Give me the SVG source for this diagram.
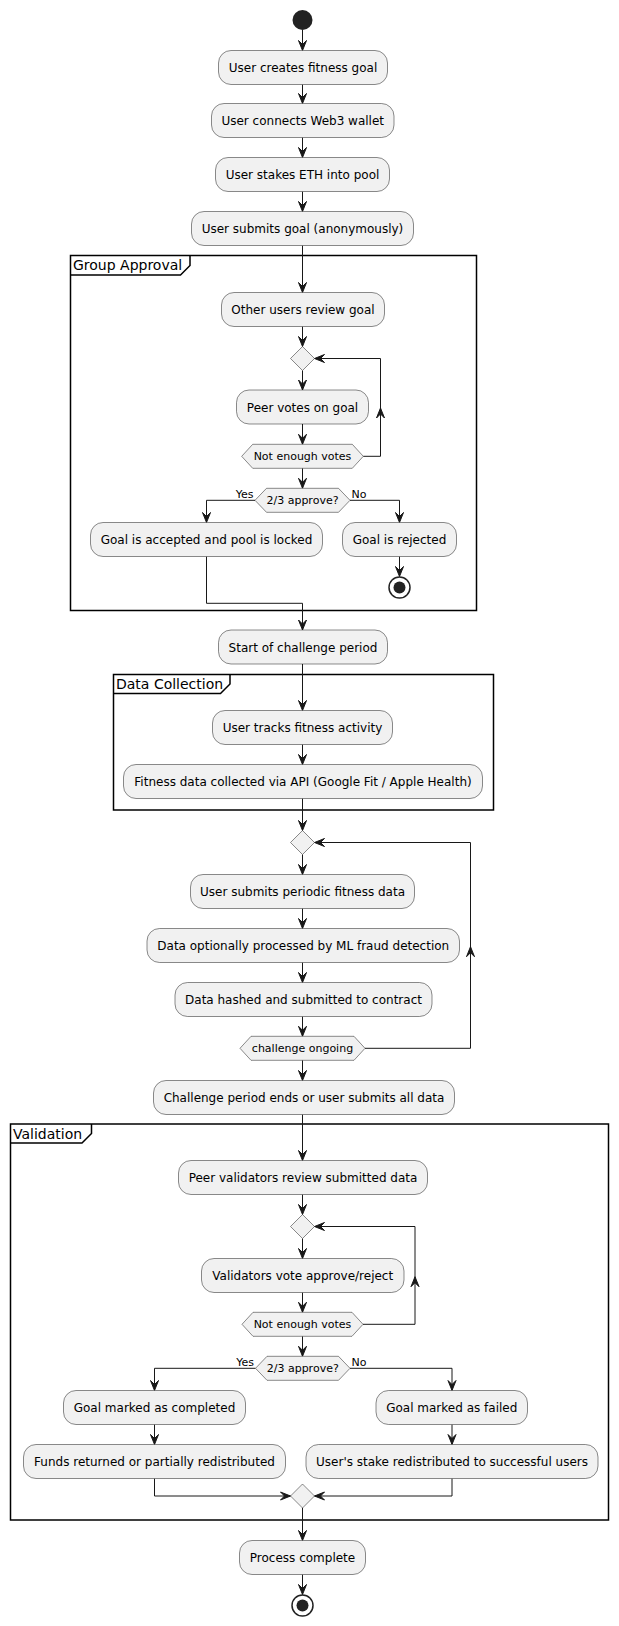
<svg xmlns="http://www.w3.org/2000/svg" width="619" height="1626" viewBox="0 0 619 1626">
<defs>
<style>
.b{fill:#F1F1F1;stroke:#181818;stroke-width:0.5}
.t{font-family:"DejaVu Sans","Liberation Sans",sans-serif;font-size:12px;fill:#000;text-anchor:middle}
.s{font-family:"DejaVu Sans","Liberation Sans",sans-serif;font-size:11px;fill:#000}
.f{fill:none;stroke:#000;stroke-width:1.5}
.ft{font-family:"DejaVu Sans","Liberation Sans",sans-serif;font-size:14px;fill:#000}
.c{fill:none;stroke:#181818;stroke-width:1}
.ah{fill:#181818;stroke:#181818;stroke-width:1}
</style>
<marker id="a" viewBox="-11 -5 12 10" refX="0" refY="0" markerWidth="12" markerHeight="10" markerUnits="userSpaceOnUse" orient="auto">
<path d="M0,0 L-10,-4 L-6,0 L-10,4 Z" fill="#181818" stroke="#181818" stroke-width="1"/>
</marker>
</defs>
<rect width="619" height="1626" fill="#FFFFFF"/>

<g id="frames">
<g id="frame-group-approval">
<rect class="f" x="70.5" y="255.5" width="406" height="355"/>
<path class="f" d="M70.5,275 L180.5,275 L190,265.5 L190,255.5"/>
<text class="ft" x="73" y="270">Group Approval</text>
</g>
<g id="frame-data-collection">
<rect class="f" x="113.5" y="674.5" width="380" height="135.5"/>
<path class="f" d="M113.5,693.5 L220.5,693.5 L230,684 L230,674.5"/>
<text class="ft" x="116" y="689">Data Collection</text>
</g>
<g id="frame-validation">
<rect class="f" x="10.5" y="1124" width="598" height="396"/>
<path class="f" d="M10.5,1143 L82,1143 L91.5,1133.5 L91.5,1124"/>
<text class="ft" x="13" y="1138.5">Validation</text>
</g>
</g>

<g id="connectors">
<path class="c" marker-end="url(#a)" d="M302.5,30 V50.5"/>
<path class="c" marker-end="url(#a)" d="M302.5,84.5 V103.5"/>
<path class="c" marker-end="url(#a)" d="M302.5,137.5 V157.5"/>
<path class="c" marker-end="url(#a)" d="M302.5,191.5 V211.5"/>
<path class="c" marker-end="url(#a)" d="M302.5,245.5 V292.5"/>
<path class="c" marker-end="url(#a)" d="M302.5,326.5 V346.5"/>
<path class="c" marker-end="url(#a)" d="M302.5,370.5 V390"/>
<path class="c" marker-end="url(#a)" d="M302.5,424 V444.3"/>
<path class="c" marker-end="url(#a)" d="M302.5,468.3 V488.3"/>
<path class="c" marker-end="url(#a)" d="M363.3,456.3 H380.5 V358.5 H314.5"/>
<polygon class="ah" points="380.5,408 384.5,418 380.5,414 376.5,418"/>
<path class="c" marker-end="url(#a)" d="M255,500.3 H206.5 V522.5"/>
<path class="c" marker-end="url(#a)" d="M350,500.3 H399.5 V522.5"/>
<path class="c" marker-end="url(#a)" d="M399.5,556.5 V576.5"/>
<path class="c" marker-end="url(#a)" d="M206.5,556.5 V603.3 H302.5 V630"/>
<path class="c" marker-end="url(#a)" d="M302.5,664 V710.5"/>
<path class="c" marker-end="url(#a)" d="M302.5,744.5 V764.5"/>
<path class="c" marker-end="url(#a)" d="M302.5,798.5 V830.5"/>
<path class="c" marker-end="url(#a)" d="M302.5,854.5 V874.5"/>
<path class="c" marker-end="url(#a)" d="M302.5,908.5 V928.5"/>
<path class="c" marker-end="url(#a)" d="M302.5,962.5 V982.5"/>
<path class="c" marker-end="url(#a)" d="M302.5,1016.5 V1036.3"/>
<path class="c" marker-end="url(#a)" d="M302.5,1060.3 V1080.5"/>
<path class="c" marker-end="url(#a)" d="M365,1048.3 H470.5 V842.5 H314.5"/>
<polygon class="ah" points="470.5,946.7 474.5,956.7 470.5,952.7 466.5,956.7"/>
<path class="c" marker-end="url(#a)" d="M302.5,1114.5 V1160.5"/>
<path class="c" marker-end="url(#a)" d="M302.5,1194.5 V1214.5"/>
<path class="c" marker-end="url(#a)" d="M302.5,1238.5 V1258.5"/>
<path class="c" marker-end="url(#a)" d="M302.5,1292.5 V1312.3"/>
<path class="c" marker-end="url(#a)" d="M302.5,1336.3 V1356.3"/>
<path class="c" marker-end="url(#a)" d="M363,1324.3 H415 V1226.5 H314.5"/>
<polygon class="ah" points="415,1276.7 419,1286.7 415,1282.7 411,1286.7"/>
<path class="c" marker-end="url(#a)" d="M255.5,1368.3 H154.5 V1390.5"/>
<path class="c" marker-end="url(#a)" d="M350,1368.3 H452 V1390.5"/>
<path class="c" marker-end="url(#a)" d="M154.5,1424.5 V1444.5"/>
<path class="c" marker-end="url(#a)" d="M452,1424.5 V1444.5"/>
<path class="c" marker-end="url(#a)" d="M154.5,1478.5 V1496 H290.5"/>
<path class="c" marker-end="url(#a)" d="M452,1478.5 V1496 H314.5"/>
<path class="c" marker-end="url(#a)" d="M302.5,1508 V1540.5"/>
<path class="c" marker-end="url(#a)" d="M302.5,1574.5 V1594.5"/>
</g>

<g id="start"><circle cx="302.5" cy="20" r="10" fill="#222222"/></g>

<g id="n1"><rect class="b" x="218.5" y="50.5" width="169" height="34" rx="12.5"/><text class="t" x="303" y="72">User creates fitness goal</text></g>
<g id="n2"><rect class="b" x="211.5" y="103.5" width="182.5" height="34" rx="12.5"/><text class="t" x="302.75" y="125">User connects Web3 wallet</text></g>
<g id="n3"><rect class="b" x="215.5" y="157.5" width="174" height="34" rx="12.5"/><text class="t" x="302.5" y="179">User stakes ETH into pool</text></g>
<g id="n4"><rect class="b" x="191.5" y="211.5" width="222" height="34" rx="12.5"/><text class="t" x="302.5" y="233">User submits goal (anonymously)</text></g>
<g id="n5"><rect class="b" x="221.5" y="292.5" width="163" height="34" rx="12.5"/><text class="t" x="303" y="314">Other users review goal</text></g>
<g id="d1"><polygon class="b" points="302.5,346.5 314.5,358.5 302.5,370.5 290.5,358.5"/></g>
<g id="n6"><rect class="b" x="236.5" y="390" width="132" height="34" rx="12.5"/><text class="t" x="302.5" y="411.5">Peer votes on goal</text></g>
<g id="h1"><polygon class="b" points="241.7,456.3 252.7,444.3 352.3,444.3 363.3,456.3 352.3,468.3 252.7,468.3"/><text class="s" x="302.5" y="460.3" text-anchor="middle">Not enough votes</text></g>
<g id="h2"><polygon class="b" points="255,500.3 266.5,488.3 338.5,488.3 350,500.3 338.5,512.3 266.5,512.3"/><text class="s" x="302.5" y="504.3" text-anchor="middle">2/3 approve?</text>
<text class="s" x="253.5" y="497.5" text-anchor="end">Yes</text><text class="s" x="351.5" y="497.5">No</text></g>
<g id="n7"><rect class="b" x="90.5" y="522.5" width="232" height="34" rx="12.5"/><text class="t" x="206.5" y="544">Goal is accepted and pool is locked</text></g>
<g id="n8"><rect class="b" x="342.5" y="522.5" width="114" height="34" rx="12.5"/><text class="t" x="399.5" y="544">Goal is rejected</text></g>
<g id="end1"><circle cx="399.5" cy="587.5" r="10.5" fill="none" stroke="#222222" stroke-width="1.5"/><circle cx="399.5" cy="587.5" r="6" fill="#222222"/></g>
<g id="n9"><rect class="b" x="218.5" y="630" width="169" height="34" rx="12.5"/><text class="t" x="303" y="651.5">Start of challenge period</text></g>
<g id="n10"><rect class="b" x="212.5" y="710.5" width="180" height="34" rx="12.5"/><text class="t" x="302.5" y="732">User tracks fitness activity</text></g>
<g id="n11"><rect class="b" x="123.5" y="764.5" width="359" height="34" rx="12.5"/><text class="t" x="303" y="786">Fitness data collected via API (Google Fit / Apple Health)</text></g>
<g id="d2"><polygon class="b" points="302.5,830.5 314.5,842.5 302.5,854.5 290.5,842.5"/></g>
<g id="n12"><rect class="b" x="190.5" y="874.5" width="224" height="34" rx="12.5"/><text class="t" x="302.5" y="896">User submits periodic fitness data</text></g>
<g id="n13"><rect class="b" x="147" y="928.5" width="312.5" height="34" rx="12.5"/><text class="t" x="303.25" y="950">Data optionally processed by ML fraud detection</text></g>
<g id="n14"><rect class="b" x="175" y="982.5" width="257" height="34" rx="12.5"/><text class="t" x="303.5" y="1004">Data hashed and submitted to contract</text></g>
<g id="h3"><polygon class="b" points="240,1048.3 251,1036.3 354,1036.3 365,1048.3 354,1060.3 251,1060.3"/><text class="s" x="302.5" y="1052.3" text-anchor="middle">challenge ongoing</text></g>
<g id="n15"><rect class="b" x="153.5" y="1080.5" width="301" height="34" rx="12.5"/><text class="t" x="304" y="1102">Challenge period ends or user submits all data</text></g>
<g id="n16"><rect class="b" x="178.5" y="1160.5" width="249" height="34" rx="12.5"/><text class="t" x="303" y="1182">Peer validators review submitted data</text></g>
<g id="d3"><polygon class="b" points="302.5,1214.5 314.5,1226.5 302.5,1238.5 290.5,1226.5"/></g>
<g id="n17"><rect class="b" x="201.5" y="1258.5" width="202.5" height="34" rx="12.5"/><text class="t" x="302.75" y="1280">Validators vote approve/reject</text></g>
<g id="h4"><polygon class="b" points="242,1324.3 253,1312.3 352,1312.3 363,1324.3 352,1336.3 253,1336.3"/><text class="s" x="302.5" y="1328.3" text-anchor="middle">Not enough votes</text></g>
<g id="h5"><polygon class="b" points="255.5,1368.3 267,1356.3 338.5,1356.3 350,1368.3 338.5,1380.3 267,1380.3"/><text class="s" x="302.75" y="1372.3" text-anchor="middle">2/3 approve?</text>
<text class="s" x="254" y="1365.5" text-anchor="end">Yes</text><text class="s" x="351.5" y="1365.5">No</text></g>
<g id="n18"><rect class="b" x="63.5" y="1390.5" width="182" height="34" rx="12.5"/><text class="t" x="154.5" y="1412">Goal marked as completed</text></g>
<g id="n19"><rect class="b" x="376" y="1390.5" width="151.5" height="34" rx="12.5"/><text class="t" x="451.75" y="1412">Goal marked as failed</text></g>
<g id="n20"><rect class="b" x="23.5" y="1444.5" width="262" height="34" rx="12.5"/><text class="t" x="154.5" y="1466">Funds returned or partially redistributed</text></g>
<g id="n21"><rect class="b" x="306" y="1444.5" width="292" height="34" rx="12.5"/><text class="t" x="452" y="1466">User's stake redistributed to successful users</text></g>
<g id="d4"><polygon class="b" points="302.5,1484 314.5,1496 302.5,1508 290.5,1496"/></g>
<g id="n22"><rect class="b" x="239.5" y="1540.5" width="126" height="34" rx="12.5"/><text class="t" x="302.5" y="1562">Process complete</text></g>
<g id="end2"><circle cx="302.5" cy="1605.5" r="10.5" fill="none" stroke="#222222" stroke-width="1.5"/><circle cx="302.5" cy="1605.5" r="6" fill="#222222"/></g>
</svg>
